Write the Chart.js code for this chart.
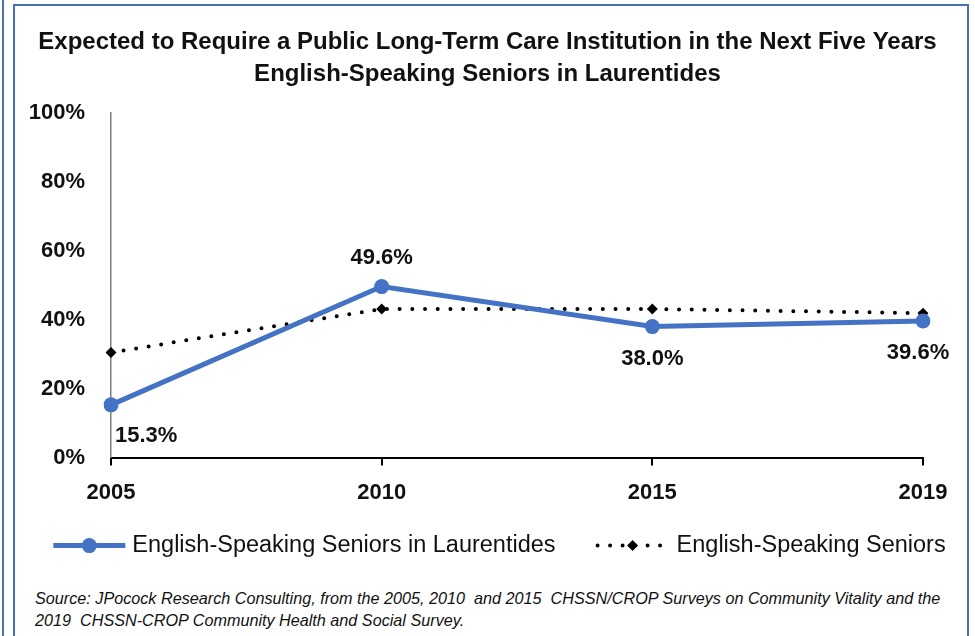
<!DOCTYPE html>
<html>
<head>
<meta charset="utf-8">
<script src="https://cdn.jsdelivr.net/npm/chart.js@4.4.0/dist/chart.umd.min.js"></script>
<style>
  html, body { margin: 0; padding: 0; background: #fff; overflow: hidden; }
  body { width: 975px; height: 636px; position: relative; font-family: "Liberation Sans", Arial, sans-serif; }
  .edge { position: absolute; left: 2px; top: 0; width: 2px; height: 636px; background: #4a6fb5; }
  .frame { position: absolute; left: 13px; top: 4px; width: 952px; height: 640px; border: 2px solid #4a6fb5; }
  #wrap { position: absolute; left: 0; top: 0; width: 975px; height: 575px; }
  .source { position: absolute; left: 35px; top: 587px; font-size: 16.2px; font-style: italic; color: #111; line-height: 22px; white-space: pre; }
</style>
</head>
<body>
<div class="edge"></div>
<div class="frame"></div>
<div id="wrap"><canvas id="lineChart"></canvas></div>
<div class="source">Source: JPocock Research Consulting, from the 2005, 2010  and 2015  CHSSN/CROP Surveys on Community Vitality and the
2019  CHSSN-CROP Community Health and Social Survey.</div>
<script>
const ctxLine = document.getElementById('lineChart');
let years = ['2005', '2010', '2015', '2019'];
let laurentidesData = [15.3, 49.6, 38.0, 39.6];
let seniorsData = [30.5, 43.1, 43.1, 41.9];
let seriesNames = ['English-Speaking Seniors in Laurentides', 'English-Speaking Seniors'];
let yTicks = [0, 20, 40, 60, 80, 100];

const blue = '#4472C4';
const ink = '#111111';

// where each value label sits relative to its point
const labelPlace = ['right-below', 'above', 'below', 'below'];

const valueLabels = {
  id: 'valueLabels',
  afterDatasetsDraw(chart) {
    const ctx = chart.ctx;
    const meta = chart.getDatasetMeta(0);
    ctx.save();
    ctx.font = 'bold 22px "Liberation Sans", Arial, sans-serif';
    ctx.fillStyle = ink;
    ctx.textBaseline = 'middle';
    meta.data.forEach((pt, i) => {
      const txt = laurentidesData[i].toFixed(1) + '%';
      const place = labelPlace[i];
      if (place === 'right-below') {
        ctx.textAlign = 'left';
        ctx.fillText(txt, pt.x + 4, pt.y + 31);
      } else if (place === 'above') {
        ctx.textAlign = 'center';
        ctx.fillText(txt, pt.x, pt.y - 29);
      } else {
        ctx.textAlign = 'center';
        ctx.fillText(txt, pt.x - (i === 3 ? 5 : 0), pt.y + 32);
      }
    });
    ctx.restore();
  }
};

const customLegend = {
  id: 'customLegend',
  afterDraw(chart) {
    const ctx = chart.ctx;
    const y = chart.chartArea.bottom + 88;
    ctx.save();
    ctx.font = '23.5px "Liberation Sans", Arial, sans-serif';
    ctx.textBaseline = 'middle';
    ctx.textAlign = 'left';
    const w0 = ctx.measureText(seriesNames[0]).width;
    const w1 = ctx.measureText(seriesNames[1]).width;
    const total = 72 + 7 + w0 + 40 + 75 + 6 + w1;
    let x = (chart.width - total) / 2 + 12;

    // blue solid entry
    ctx.strokeStyle = blue;
    ctx.lineWidth = 5;
    ctx.beginPath();
    ctx.moveTo(x, y);
    ctx.lineTo(x + 72, y);
    ctx.stroke();
    ctx.fillStyle = blue;
    ctx.beginPath();
    ctx.arc(x + 36, y, 7.5, 0, Math.PI * 2);
    ctx.fill();
    x += 79;
    ctx.fillStyle = ink;
    ctx.fillText(seriesNames[0], x, y);
    x += w0 + 40;

    // dotted entry
    ctx.strokeStyle = '#000';
    ctx.lineWidth = 4;
    ctx.lineCap = 'round';
    ctx.setLineDash([0, 12.5]);
    ctx.beginPath();
    ctx.moveTo(x + 2, y);
    ctx.lineTo(x + 75, y);
    ctx.stroke();
    ctx.setLineDash([]);
    ctx.fillStyle = '#000';
    ctx.beginPath();
    ctx.moveTo(x + 37, y - 5.5);
    ctx.lineTo(x + 42.5, y);
    ctx.lineTo(x + 37, y + 5.5);
    ctx.lineTo(x + 31.5, y);
    ctx.closePath();
    ctx.fill();
    x += 81;
    ctx.fillStyle = ink;
    ctx.fillText(seriesNames[1], x, y);
    ctx.restore();
  }
};

const lineChart = new Chart(ctxLine, {
  type: 'line',
  data: {
    labels: years,
    datasets: [{
      label: seriesNames[0],
      data: laurentidesData,
      borderColor: blue,
      backgroundColor: blue,
      borderWidth: 5,
      pointRadius: 7.5,
      pointBorderWidth: 0,
      pointBackgroundColor: blue,
      tension: 0
    }, {
      label: seriesNames[1],
      data: seniorsData,
      borderColor: '#000',
      backgroundColor: '#000',
      borderWidth: 4,
      borderDash: [0, 12.7],
      borderCapStyle: 'round',
      pointStyle: 'rectRot',
      pointRadius: 5.5,
      pointBorderWidth: 0,
      pointBackgroundColor: '#000',
      tension: 0
    }]
  },
  options: {
    responsive: true,
    maintainAspectRatio: false,
    animation: false,
    layout: {
      padding: { left: 0, right: 0, top: 0, bottom: 55 }
    },
    plugins: {
      legend: { display: false },
      tooltip: { enabled: false },
      title: {
        display: true,
        text: ['Expected to Require a Public Long-Term Care Institution in the Next Five Years', 'English-Speaking Seniors in Laurentides'],
        color: ink,
        font: { family: '"Liberation Sans", Arial, sans-serif', size: 24, weight: 'bold', lineHeight: 1.35 },
        padding: { top: 26, bottom: 22 }
      }
    },
    scales: {
      x: {
        offset: false,
        grid: { drawOnChartArea: false, drawTicks: true, tickLength: 8, color: '#000', lineWidth: 2 },
        border: { color: '#000', width: 2 },
        ticks: {
          color: ink,
          padding: 14,
          font: { family: '"Liberation Sans", Arial, sans-serif', size: 22, weight: 'bold' }
        }
      },
      y: {
        min: 0,
        max: 100,
        grid: { display: false, drawTicks: false },
        border: { color: '#7f7f7f', width: 1.5 },
        afterFit(scale) { scale.width = 111; },
        afterBuildTicks(scale) { scale.ticks = yTicks.map(v => ({ value: v })); },
        ticks: {
          color: ink,
          padding: 26,
          font: { family: '"Liberation Sans", Arial, sans-serif', size: 22, weight: 'bold' },
          callback: v => v + '%'
        }
      },
      // empty right-hand spacer so the title stays centred on the page
      spacer: {
        type: 'linear',
        position: 'right',
        display: true,
        grid: { display: false, drawTicks: false },
        border: { display: false },
        ticks: { display: false },
        afterFit(scale) { scale.width = 52; }
      }
    }
  },
  plugins: [valueLabels, customLegend]
});
</script>
</body>
</html>
